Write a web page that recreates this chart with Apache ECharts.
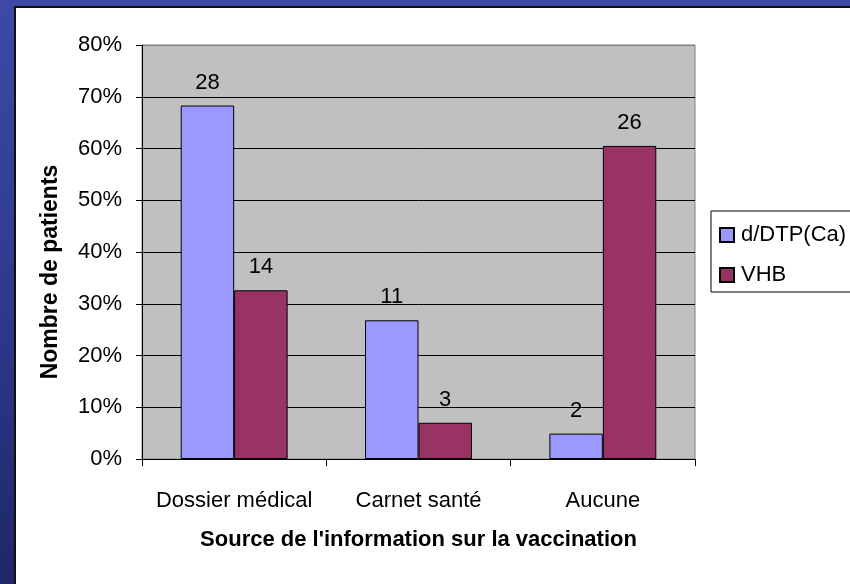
<!DOCTYPE html>
<html>
<head>
<meta charset="utf-8">
<script src="https://cdn.jsdelivr.net/npm/echarts@6/dist/echarts.min.js"></script>
<style>
  html, body {
    margin: 0;
    padding: 0;
    width: 850px;
    height: 584px;
    overflow: hidden;
    background: linear-gradient(180deg, #3d4aa6 0%, #2f3a8e 50%, #1f2766 100%);
  }
  .panel {
    position: absolute;
    left: 14px;
    top: 6px;
    width: 850px;
    height: 600px;
    background: #fff;
    border: 2px solid #111;
  }
  #chart {
    position: absolute;
    left: 0;
    top: 0;
    width: 850px;
    height: 584px;
  }
</style>
</head>
<body>
<div class="panel"></div>
<div id="chart"></div>
<script>
// catégories et séries
const categories = ['Dossier médical', 'Carnet santé', 'Aucune']
const seriesNames = ['d/DTP(Ca)', 'VHB']
// pourcentages
const dtpPercent = [68.3, 26.8, 4.9]
const vhbPercent = [32.6, 7.0, 60.5]
// effectifs affichés au-dessus des barres
const dtpCounts = [28, 11, 2]
const vhbCounts = [14, 3, 26]
// graduations de l'axe Y
const yTicks = [0, 10, 20, 30, 40, 50, 60, 70, 80]

const fontFamily = "'Liberation Sans', Arial, sans-serif"
const blueColor = '#9999ff'
const redColor = '#993366'

const myChart = echarts.init(document.getElementById('chart'), null, { renderer: 'canvas' })

function barSeries(name, values, counts, color) {
  return {
    name: name,
    type: 'bar',
    data: values,
    barGap: '0%',
    barCategoryGap: '42%',
    itemStyle: {
      color: color,
      borderColor: '#000',
      borderWidth: 1
    },
    label: {
      show: true,
      position: 'top',
      distance: 12,
      color: '#000',
      fontSize: 22,
      fontFamily: fontFamily,
      formatter: function (p) {
        return counts[p.dataIndex]
      }
    }
  }
}

// couleurs des lignes de grille : noir, sauf le bord supérieur gris
const splitColors = yTicks.map((t, i) => (i === yTicks.length - 1 ? '#808080' : '#000'))

const option = {
  animation: false,
  backgroundColor: 'transparent',
  textStyle: { fontFamily: fontFamily },
  grid: {
    left: 142,
    top: 45,
    right: 155,
    bottom: 125,
    show: true,
    backgroundColor: '#c0c0c0',
    borderColor: '#808080',
    borderWidth: 1
  },
  legend: {
    left: 711,
    top: 211,
    orient: 'vertical',
    data: seriesNames,
    backgroundColor: '#fff',
    borderColor: '#000',
    borderWidth: 1,
    padding: [13, 30, 6, 8],
    itemWidth: 14,
    itemHeight: 14,
    itemGap: 18,
    icon: 'rect',
    textStyle: {
      color: '#000',
      fontSize: 22,
      fontFamily: fontFamily,
      padding: [0, 0, 0, 2]
    }
  },
  xAxis: {
    type: 'category',
    data: categories,
    name: "Source de l'information sur la vaccination",
    nameLocation: 'middle',
    nameGap: 70,
    nameTextStyle: {
      color: '#000',
      fontSize: 22,
      fontWeight: 'bold',
      fontFamily: fontFamily
    },
    axisLine: { lineStyle: { color: '#000', width: 1 } },
    axisTick: { show: true, interval: 0, length: 7, lineStyle: { color: '#000' } },
    axisLabel: {
      interval: 0,
      hideOverlap: false,
      color: '#000',
      fontSize: 22,
      fontFamily: fontFamily,
      margin: 31
    }
  },
  yAxis: {
    type: 'value',
    min: 0,
    max: 80,
    interval: 10,
    axisLine: { show: true, lineStyle: { color: '#000', width: 1 } },
    axisTick: { show: true, length: 6, lineStyle: { color: '#000' } },
    axisLabel: {
      color: '#000',
      fontSize: 22,
      fontFamily: fontFamily,
      margin: 20,
      formatter: '{value}%'
    },
    splitLine: {
      show: true,
      lineStyle: { color: splitColors, width: 1 }
    }
  },
  graphic: [
    {
      type: 'text',
      x: 51,
      y: 272,
      rotation: Math.PI / 2,
      style: {
        text: 'Nombre de patients',
        fill: '#000',
        font: 'bold 23px ' + fontFamily,
        textAlign: 'center',
        textVerticalAlign: 'middle'
      }
    }
  ],
  series: [
    barSeries(seriesNames[0], dtpPercent, dtpCounts, blueColor),
    barSeries(seriesNames[1], vhbPercent, vhbCounts, redColor)
  ]
}

myChart.setOption(option)
</script>
</body>
</html>
